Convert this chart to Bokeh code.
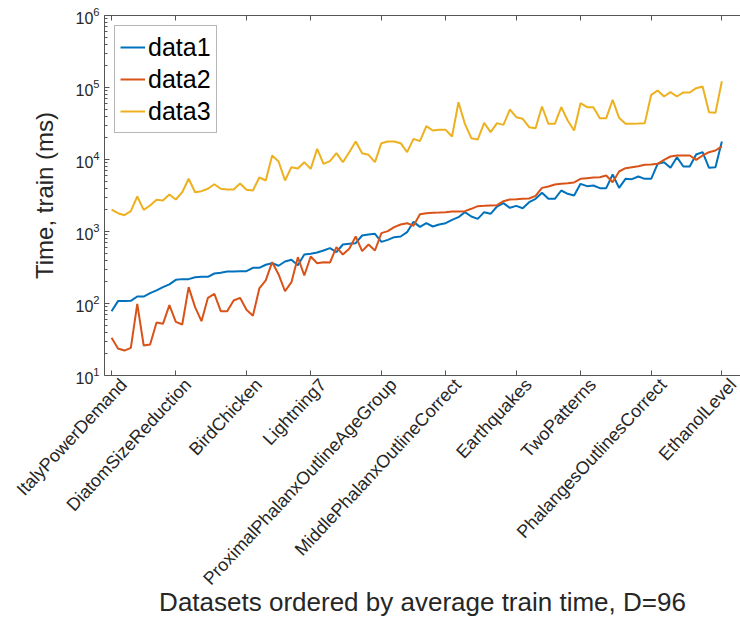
from bokeh.plotting import figure
from bokeh.models import FixedTicker, LinearAxis, Legend, LegendItem, Range1d
from bokeh.embed import file_html
from bokeh.resources import INLINE
import math

# ---------------- data ----------------
x_index = list(range(1, 97))

data1 = [78, 108, 108, 109, 125, 125, 139, 152, 169, 184, 213, 218, 218, 232, 235, 235,
         261, 267, 278, 278, 281, 281, 313, 313, 345, 363, 334, 383, 404, 340, 479, 490,
         511, 545, 587, 516, 660, 675, 689, 880, 909, 929, 718, 766, 834, 853, 979, 1362,
         1160, 1306, 1173, 1250, 1306, 1453, 1581, 1856, 1616, 1500, 1856, 1759, 2224, 2475, 2132, 2270,
         2107, 2553, 2844, 3444, 2844, 2844, 3710, 3337, 3162, 4595, 4264, 4353, 3998, 3998, 6190, 4037,
         5384, 5330, 5805, 5384, 5384, 8710, 9180, 7660, 10770, 7990, 7990, 11730, 12640, 7660, 7830, 17780]

data2 = [33.4, 23.7, 22.2, 24.2, 98.9, 26.1, 27.0, 54.5, 52.2, 94.8, 55.6, 51.1, 169, 88.9, 56.8, 120,
         136, 78.3, 78.3, 110, 120, 81.7, 67.4, 162, 209, 375, 253, 148, 198, 440, 245, 450,
         363, 375, 371, 605, 479, 575, 853, 533, 660, 545, 948, 1011, 1148, 1250, 1306, 1200,
         1740, 1797, 1817, 1836, 1856, 1896, 1896, 1915, 2066, 2249, 2270, 2297, 2321, 2636, 2783, 2812,
         2844, 2873, 3128, 4037, 4217, 4497, 4595, 4690, 4794, 5384, 5504, 5623, 5683, 5995, 4838, 6813,
         7580, 7830, 8073, 8440, 8531, 8710, 9890, 11010, 11370, 11370, 11370, 9890, 11370, 12640, 13340, 15170]

data3 = [2020, 1795, 1683, 1914, 3063, 2000, 2296, 2756, 2697, 3266, 2783, 3515, 5395, 3515, 3630, 3917,
         4540, 3917, 3830, 3830, 4642, 3793, 3710, 5623, 5105, 11370, 9380, 5110, 7830, 7500, 9180, 7420,
         14070, 8710, 9480, 12240, 9180, 12640, 17780, 12240, 11620, 9180, 16860, 17780, 17780, 16860, 12640, 19370,
         17980, 29030, 25290, 25820, 25820, 20850, 62500, 31280, 19770, 18960, 32300, 23970, 31990, 30280, 49460, 38690,
         36760, 28100, 27220, 54490, 31280, 31280, 53320, 34810, 25290, 60530, 53320, 53320, 37480, 37480, 67470, 37930,
         31280, 31280, 31620, 31990, 79070, 90850, 74990, 86100, 74990, 85310, 85310, 97900, 103300, 45390, 44480, 122400]

tick_positions = [1, 11, 22, 32, 43, 53, 64, 74, 85, 96]
tick_labels = ["ItalyPowerDemand", "DiatomSizeReduction", "BirdChicken", "Lightning7",
               "ProximalPhalanxOutlineAgeGroup", "MiddlePhalanxOutlineCorrect", "Earthquakes",
               "TwoPatterns", "PhalangesOutlinesCorrect", "EthanolLevel"]

series_names = ["data1", "data2", "data3"]
series_colors = ["#0072BD", "#D95319", "#EDB120"]

FONT = "Liberation Sans"
TXT = "#262626"
AX = "#555555"

X0, X1 = -0.1, 98.9
LABEL_SHIFT = 1.9  # rotated tick labels sit a little right of their ticks (as in the original)

# ---------------- figure ----------------
p = figure(frame_width=636, frame_height=360,
           x_range=Range1d(X0, X1), y_range=Range1d(10, 1e6), y_axis_type="log",
           output_backend="svg", toolbar_location=None,
           min_border_left=104, min_border_top=15, min_border_right=0, min_border_bottom=10)
p.extra_x_ranges = {"lab": Range1d(X0 - LABEL_SHIFT, X1 - LABEL_SHIFT)}
p.outline_line_color = None
p.xgrid.visible = False
p.ygrid.visible = False
p.background_fill_color = "white"
p.border_fill_color = "white"

renderers = []
for vals, col in zip([data1, data2, data3], series_colors):
    r = p.line(x_index, vals, line_color=col, line_width=2)
    renderers.append(r)

# x axis (bottom): line + inward ticks
xa = p.xaxis[0]
xa.ticker = FixedTicker(ticks=tick_positions)
xa.major_label_overrides = {t: "" for t in tick_positions}
xa.major_label_text_font_size = "1px"
xa.major_label_standoff = 0
xa.major_tick_in = 5
xa.major_tick_out = 0
xa.minor_tick_line_color = None
xa.axis_line_color = AX
xa.major_tick_line_color = AX

# x tick labels + axis title
xl = LinearAxis(x_range_name="lab", ticker=FixedTicker(ticks=tick_positions),
                major_label_overrides={t: l for t, l in zip(tick_positions, tick_labels)},
                major_label_orientation=0.82,
                major_label_text_font=FONT, major_label_text_font_size="18px",
                major_label_text_color=TXT, major_label_standoff=6,
                major_tick_in=0, major_tick_out=0,
                axis_line_color=None, major_tick_line_color=None, minor_tick_line_color=None,
                axis_label="Datasets ordered by average train time, D=96",
                axis_label_text_font=FONT, axis_label_text_font_size="26px",
                axis_label_text_font_style="normal", axis_label_text_color=TXT,
                axis_label_standoff=-12)
p.add_layout(xl, "below")

# y axis (left)
ya = p.yaxis[0]
decades = [10, 100, 1000, 10000, 100000, 1000000]
ya.ticker = FixedTicker(ticks=decades,
                        minor_ticks=[m * d for d in decades[:-1] for m in range(2, 10)])
ya.major_label_text_font = FONT
ya.major_label_text_font_size = "16px"
ya.major_label_text_color = TXT
ya.major_label_standoff = 5
ya.major_tick_in = 5
ya.major_tick_out = 0
ya.minor_tick_in = 3
ya.minor_tick_out = 0
ya.axis_line_color = AX
ya.major_tick_line_color = AX
ya.minor_tick_line_color = AX
ya.axis_label = "Time, train (ms)"
ya.axis_label_text_font = FONT
ya.axis_label_text_font_size = "24px"
ya.axis_label_text_font_style = "normal"
ya.axis_label_text_color = TXT
ya.axis_label_standoff = 14

# top axis (box line with inward ticks)
top = LinearAxis(ticker=FixedTicker(ticks=tick_positions),
                 major_label_overrides={t: "" for t in tick_positions},
                 major_tick_in=5, major_tick_out=0, major_label_standoff=0,
                 major_label_text_font_size="1px",
                 minor_tick_line_color=None,
                 axis_line_color=AX, major_tick_line_color=AX)
p.add_layout(top, "above")

legend = Legend(items=[LegendItem(label=n, renderers=[r]) for n, r in zip(series_names, renderers)],
                location="top_left", margin=10, padding=5, spacing=0,
                glyph_width=25, glyph_height=32, label_height=32, label_standoff=3,
                label_text_font=FONT, label_text_font_size="25px", label_text_color="black",
                border_line_color="#707070", border_line_width=1,
                background_fill_color="white", background_fill_alpha=1.0)
p.add_layout(legend)

open("out.html", "w").write(file_html(p, INLINE))
